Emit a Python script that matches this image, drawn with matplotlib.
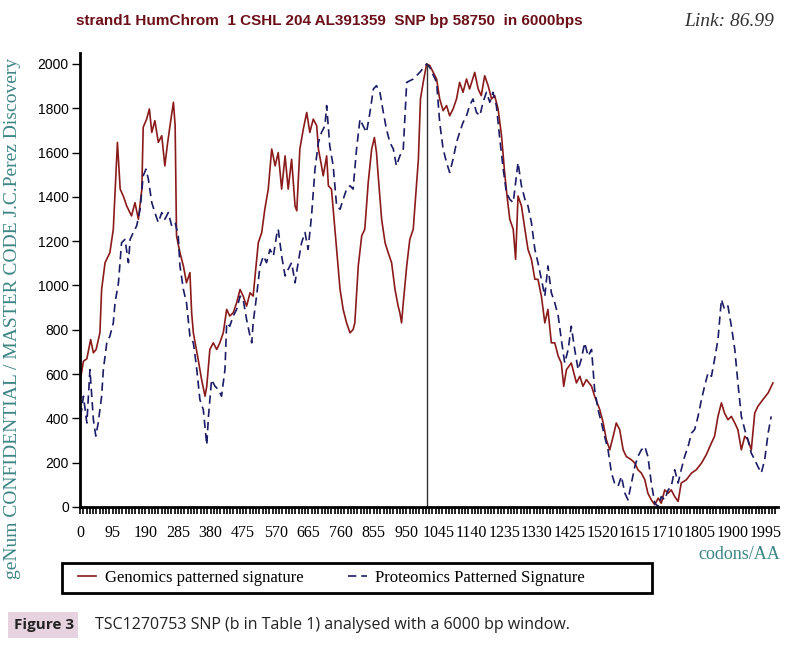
import matplotlib.pyplot as plt
from matplotlib.ticker import MultipleLocator, FixedLocator
from matplotlib.patches import Rectangle

# Genomics patterned signature (codon index, value)
gen_x = [2, 10, 20, 31, 39, 47, 58, 63, 73, 87, 97, 109, 117, 126, 136, 150, 160, 170,
         180, 184, 194, 202, 209, 218, 228, 238, 247, 254, 262, 272, 277, 281, 291, 301,
         310, 320, 325, 330, 344, 354, 364, 369, 378, 388, 398, 407, 417, 427, 436, 446,
         456, 466, 475, 485, 495, 504, 519, 529, 538, 548, 558, 568, 577, 587, 597, 606,
         616, 626, 631, 640, 650, 660, 669, 679, 689, 694, 703, 708, 718, 723, 732, 737,
         747, 757, 766, 776, 786, 795, 800, 810, 820, 829, 839, 849, 857, 863, 868, 878,
         888, 897, 907, 917, 926, 931, 936, 941, 951, 960, 970, 980, 985, 991, 999, 1009,
         1018, 1038, 1047, 1057, 1067, 1076, 1086, 1096, 1105, 1115, 1125, 1134, 1149,
         1159, 1168, 1178, 1188, 1198, 1207, 1217, 1227, 1236, 1243, 1251, 1261, 1268,
         1275, 1285, 1295, 1304, 1314, 1324, 1333, 1343, 1353, 1362, 1372, 1382, 1392,
         1401, 1408, 1416, 1430, 1445, 1455, 1464, 1474, 1489, 1498, 1513, 1523, 1532,
         1542, 1552, 1561, 1571, 1581, 1590, 1605, 1615, 1624, 1634, 1644, 1653, 1663,
         1673, 1683, 1692, 1702, 1712, 1721, 1731, 1741, 1750, 1765, 1780, 1794, 1809,
         1823, 1838, 1847, 1857, 1867, 1876, 1886, 1896, 1906, 1915, 1925, 1935, 1944,
         1954, 1964, 1973, 1988, 2003, 2017]
gen_y = [583, 658, 669, 756, 696, 711, 786, 982, 1103, 1148, 1254, 1646, 1435, 1404, 1359,
         1314, 1374, 1299, 1435, 1714, 1751, 1797, 1691, 1744, 1646, 1676, 1540, 1631,
         1721, 1827, 1721, 1224, 1148, 1088, 1012, 1058, 877, 786, 666, 575, 500, 545,
         711, 741, 711, 741, 786, 892, 862, 877, 922, 982, 952, 907, 967, 952, 1193, 1239,
         1344, 1435, 1616, 1540, 1600, 1435, 1585, 1435, 1570, 1359, 1337, 1616, 1706,
         1781, 1691, 1751, 1721, 1616, 1540, 1495, 1585, 1450, 1435, 1344, 1163, 982, 892,
         831, 786, 801, 831, 1088, 1224, 1254, 1465, 1616, 1668, 1600, 1495, 1299, 1193,
         1148, 1103, 982, 907, 877, 831, 922, 1088, 1208, 1254, 1465, 1570, 1842, 1917,
         2000, 1993, 1932, 1842, 1789, 1812, 1766, 1797, 1842, 1917, 1872, 1932, 1887,
         1962, 1887, 1857, 1947, 1902, 1842, 1857, 1797, 1676, 1510, 1404, 1299, 1254,
         1118, 1404, 1359, 1254, 1163, 1118, 1028, 1028, 952, 831, 892, 741, 741, 681,
         650, 545, 620, 650, 560, 590, 545, 575, 545, 500, 439, 379, 304, 258, 319, 379,
         349, 258, 228, 213, 198, 168, 153, 123, 62, 32, 10, 40, 17, 77, 62, 77, 47, 25,
         108, 123, 153, 168, 198, 236, 289, 319, 409, 470, 424, 394, 409, 379, 349, 258,
         319, 304, 258, 424, 454, 485, 515, 560]

# Proteomics patterned signature (codon index, value)
prot_x = [2, 10, 20, 29, 39, 46, 53, 63, 68, 78, 87, 97, 102, 112, 121, 131, 141, 146,
          155, 165, 175, 184, 192, 199, 209, 218, 228, 238, 247, 257, 267, 277, 286, 291,
          301, 310, 320, 330, 339, 349, 359, 369, 374, 383, 393, 403, 412, 422, 427, 436,
          446, 456, 466, 475, 485, 495, 500, 504, 514, 524, 534, 543, 553, 563, 572, 577,
          587, 597, 606, 616, 626, 635, 645, 655, 664, 674, 684, 694, 703, 713, 718, 727,
          737, 747, 757, 766, 776, 786, 795, 805, 815, 824, 834, 844, 854, 863, 873, 883,
          892, 902, 912, 921, 931, 941, 951, 970, 989, 1009, 1018, 1038, 1047, 1057, 1067,
          1076, 1086, 1096, 1105, 1115, 1125, 1134, 1144, 1154, 1164, 1173, 1183, 1193,
          1202, 1212, 1222, 1232, 1241, 1251, 1261, 1275, 1285, 1295, 1304, 1314, 1324,
          1333, 1343, 1353, 1362, 1372, 1382, 1392, 1401, 1411, 1421, 1430, 1440, 1450,
          1459, 1469, 1479, 1489, 1498, 1508, 1518, 1527, 1537, 1547, 1556, 1566, 1576,
          1586, 1595, 1605, 1615, 1624, 1634, 1644, 1653, 1663, 1673, 1683, 1692, 1702,
          1712, 1721, 1731, 1741, 1750, 1760, 1770, 1780, 1789, 1799, 1809, 1818, 1828,
          1838, 1847, 1857, 1867, 1876, 1886, 1896, 1906, 1915, 1925, 1935, 1944, 1954,
          1964, 1973, 1983, 1993, 2003, 2012]
prot_y = [409, 500, 379, 620, 394, 320, 379, 500, 620, 741, 771, 831, 922, 1012, 1193,
          1208, 1103, 1208, 1239, 1269, 1344, 1495, 1525, 1480, 1374, 1329, 1284, 1329,
          1299, 1329, 1269, 1284, 1224, 1088, 982, 922, 771, 741, 635, 485, 439, 280, 409,
          575, 545, 530, 500, 620, 831, 816, 862, 892, 952, 937, 846, 771, 741, 831, 952,
          1088, 1133, 1103, 1163, 1133, 1224, 1254, 1133, 1043, 1073, 1103, 1012, 1103,
          1193, 1239, 1163, 1314, 1525, 1646, 1691, 1721, 1812, 1631, 1540, 1359, 1344,
          1389, 1435, 1450, 1435, 1616, 1751, 1721, 1691, 1781, 1887, 1902, 1872, 1781,
          1706, 1646, 1616, 1540, 1585, 1616, 1917, 1932, 1962, 2000, 1985, 1917, 1736,
          1616, 1555, 1510, 1570, 1646, 1691, 1736, 1766, 1812, 1842, 1781, 1766, 1827,
          1872, 1827, 1872, 1812, 1661, 1525, 1420, 1389, 1374, 1555, 1450, 1389, 1359,
          1284, 1163, 1103, 1028, 952, 1088, 967, 922, 862, 756, 650, 711, 816, 711, 620,
          666, 741, 681, 711, 530, 439, 379, 319, 258, 153, 108, 93, 138, 62, 32, 108, 183,
          228, 258, 273, 228, 108, 17, 2, 47, 32, 77, 93, 168, 108, 168, 228, 273, 334, 349,
          409, 485, 545, 605, 590, 666, 756, 937, 892, 907, 816, 711, 560, 409, 349, 304,
          243, 213, 183, 153, 213, 334, 409]

x_ticks = list(range(0, 2000, 95))
y_ticks = list(range(0, 2001, 200))
snp_pos = 1010

fig = plt.figure(figsize=(7.88, 6.45), dpi=100)
ax = fig.add_axes([0.1015, 0.214, 0.8855, 0.704])

ax.plot(gen_x, gen_y, color='#8b1a1a', lw=1.2, label='Genomics patterned signature')
ax.plot(prot_x, prot_y, color='#1c1c66', lw=1.2, ls=(0, (5, 3)),
        label='Proteomics Patterned Signature')
ax.vlines(snp_pos, 0, 2000, color='#333333', lw=1)

ax.set_xlim(0, 2031)
ax.set_ylim(0, 2050)
ax.spines['top'].set_visible(False)
ax.spines['right'].set_visible(False)
ax.spines['left'].set_linewidth(2)
ax.spines['bottom'].set_linewidth(2)

ax.xaxis.set_major_locator(FixedLocator(x_ticks))
ax.xaxis.set_minor_locator(MultipleLocator(9.5))
ax.set_yticks(y_ticks)
ax.tick_params(axis='x', which='both', direction='out', length=5, width=1.2, pad=8,
               labelsize=11.5)
ax.tick_params(axis='y', direction='out', length=6, width=1, pad=2, labelsize=10)
for lab in ax.get_xticklabels():
    lab.set_fontfamily('Liberation Serif')
for lab in ax.get_yticklabels():
    lab.set_fontfamily('Liberation Sans')

ax.set_xlabel('codons/AA', color='#3d8585', fontfamily='Liberation Serif', fontsize=13)
ax.xaxis.set_label_coords(0.945, -0.085)

fig.text(0.016, 0.507, 'geNum CONFIDENTIAL / MASTER CODE J.C.Perez Discovery',
         rotation=90, ha='center', va='center', color='#3d8585',
         fontfamily='Liberation Serif', fontsize=14)

fig.text(0.418, 0.968, 'strand1 HumChrom  1 CSHL 204 AL391359  SNP bp 58750  in 6000bps',
         ha='center', va='center', color='#6b1019', fontweight='bold',
         fontfamily='Liberation Sans', fontsize=11)
fig.text(0.983, 0.966, 'Link: 86.99', ha='right', va='center', color='#333333',
         fontfamily='Liberation Serif', style='italic', fontsize=14)

# legend box drawn separately so the two entries sit where they do in the figure
fig.patches.append(Rectangle((62 / 788, 1 - 593 / 645), 590 / 788, 30 / 645,
                             transform=fig.transFigure, facecolor='white',
                             edgecolor='black', linewidth=2))
fig.legend(loc='center left', bbox_to_anchor=(78 / 788, 1 - 578 / 645), ncol=2,
           frameon=False, borderaxespad=0, borderpad=0, handlelength=1.1,
           handletextpad=0.5, columnspacing=2.7,
           prop={'family': 'Liberation Serif', 'size': 12})

fig.patches.append(Rectangle((8 / 788, 1 - 638 / 645), 70 / 788, 26 / 645,
                             transform=fig.transFigure, facecolor='#e6d3df',
                             edgecolor='none'))
fig.text(14 / 788, 1 - 625 / 645, 'Figure 3', ha='left', va='center', fontweight='bold',
         fontfamily='Open Sans', fontsize=11, color='#222222')
fig.text(95 / 788, 1 - 625 / 645,
         'TSC1270753 SNP (b in Table 1) analysed with a 6000 bp window.',
         ha='left', va='center', fontfamily='Open Sans', fontsize=11.5, color='#222222')

fig.savefig('out.png', dpi=100)
